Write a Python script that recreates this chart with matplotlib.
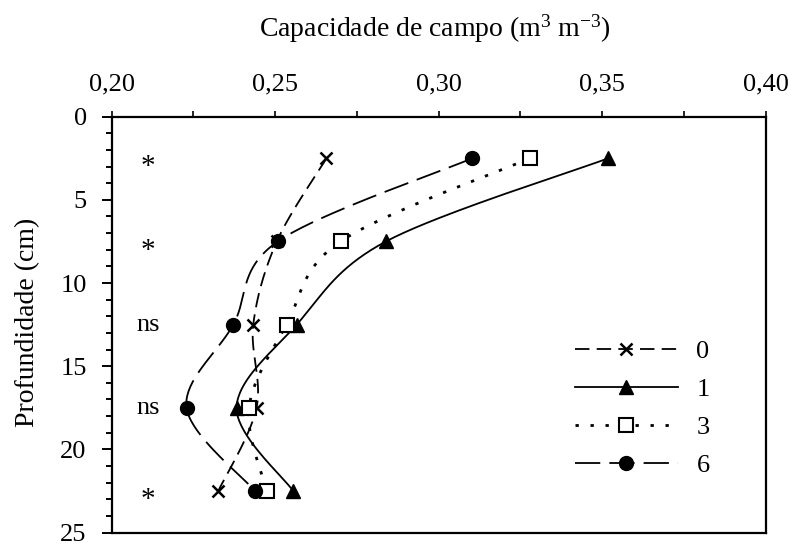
import numpy as np
import matplotlib
matplotlib.use('Agg')
import matplotlib.pyplot as plt
from matplotlib.lines import Line2D
from matplotlib.ticker import MultipleLocator, FixedLocator

# ---- data ----
depth = [2.5, 7.5, 12.5, 17.5, 22.5]
cc_0 = [0.2657, 0.2505, 0.2433, 0.2443, 0.2326]
cc_1 = [0.3519, 0.2839, 0.2566, 0.2382, 0.2555]
cc_3 = [0.3279, 0.2700, 0.2535, 0.2420, 0.2474]
cc_6 = [0.3103, 0.2508, 0.2372, 0.2229, 0.2438]
series_labels = ['0', '1', '3', '6']
sig_labels = ['*', '*', 'ns', 'ns', '*']
xticks = [0.20, 0.25, 0.30, 0.35, 0.40]
xticklabels = ['0,20', '0,25', '0,30', '0,35', '0,40']
yticks = [0, 5, 10, 15, 20, 25]

plt.rcParams['font.family'] = ['Liberation Serif', 'DejaVu Serif']
plt.rcParams['mathtext.fontset'] = 'custom'
plt.rcParams['mathtext.rm'] = 'Liberation Serif'
plt.rcParams['mathtext.it'] = 'Liberation Serif:italic'

fig = plt.figure(figsize=(7.92, 5.45), dpi=100)
ax = fig.add_axes([111.7 / 792, 1 - 532.5 / 545, (765.5 - 111.7) / 792, (532.5 - 116.7) / 545])

XMIN, XMAX, YMIN, YMAX = 0.20, 0.40, 0, 25
ax.set_xlim(XMIN, XMAX)
ax.set_ylim(YMAX, YMIN)

W = (765.5 - 111.7)
H = (532.5 - 116.7)


def smooth(xs, ys, n=40):
    X = (np.asarray(xs) - XMIN) / (XMAX - XMIN) * W
    Y = (np.asarray(ys) - YMIN) / (YMAX - YMIN) * H
    P = np.column_stack([X, Y])
    P = np.vstack([P[0], P, P[-1]])
    out = []
    t = np.linspace(0, 1, n)[:, None]
    for i in range(1, len(P) - 2):
        p0, p1, p2, p3 = P[i - 1], P[i], P[i + 1], P[i + 2]
        seg = 0.5 * ((2 * p1) + (-p0 + p2) * t + (2 * p0 - 5 * p1 + 4 * p2 - p3) * t ** 2
                     + (-p0 + 3 * p1 - 3 * p2 + p3) * t ** 3)
        out.append(seg if i == 1 else seg[1:])
    out = np.vstack(out)
    return out[:, 0] / W * (XMAX - XMIN) + XMIN, out[:, 1] / H * (YMAX - YMIN) + YMIN


styles = [
    dict(ls=(0, (8, 4)), lw=1.3, marker='x', ms=8, mew=1.8, mfc='black'),
    dict(ls='-', lw=1.3, marker='^', ms=10, mew=1.0, mfc='black'),
    dict(ls=(0, (1.2, 4.2)), lw=2.0, marker='s', ms=10, mew=1.5, mfc='white'),
    dict(ls=(0, (14, 5)), lw=1.3, marker='o', ms=10, mew=1.0, mfc='black'),
]
series = [cc_0, cc_1, cc_3, cc_6]

handles = []
for vals, st, lab in zip(series, styles, series_labels):
    sx, sy = smooth(vals, depth)
    ax.plot(sx, sy, color='black', linestyle=st['ls'], lw=st['lw'], zorder=2)
    ax.plot(vals, depth, linestyle='none', marker=st['marker'], ms=st['ms'],
            mew=st['mew'], mfc=st['mfc'], mec='black', zorder=3)
    handles.append(Line2D([], [], color='black', linestyle=st['ls'], lw=st['lw'],
                          marker=st['marker'], ms=st['ms'], mew=st['mew'],
                          mfc=st['mfc'], mec='black', label=lab))

for d, s in zip(depth, sig_labels):
    if s == '*':
        ax.text(0.2111, d + 0.55, s, ha='center', va='center', fontsize=21)
    else:
        ax.text(0.2111, d, s, ha='center', va='center', fontsize=19)

# axes styling
ax.xaxis.tick_top()
ax.xaxis.set_major_locator(FixedLocator(xticks))
ax.set_xticklabels(xticklabels)
ax.xaxis.set_minor_locator(MultipleLocator(0.025))
ax.yaxis.set_major_locator(FixedLocator(yticks))
ax.yaxis.set_minor_locator(MultipleLocator(1))
ax.tick_params(axis='x', which='both', direction='out', length=4.5, width=1.2,
               labelsize=19, pad=11, top=True, bottom=False)
ax.tick_params(axis='y', which='major', direction='out', length=7, width=1.4,
               labelsize=19, pad=11, left=True, right=False)
ax.tick_params(axis='y', which='minor', direction='out', length=4, width=1.4,
               left=True, right=False)
for sp in ax.spines.values():
    sp.set_linewidth(1.6)

fig.text(435 / 792, 1 - 37 / 545, r'Capacidade de campo (m$^3$ m$^{-3}$)',
         ha='center', va='baseline', fontsize=20)
fig.text(28 / 792, 1 - 322 / 545, 'Profundidade (cm)', rotation=90,
         ha='center', va='center', fontsize=20)

leg = ax.legend(handles=handles, loc='upper left', frameon=False,
                bbox_to_anchor=((575 - 111.7) / W, 1 - (340 - 116.7) / H),
                fontsize=19, handlelength=3.9, handletextpad=0.7,
                labelspacing=0.55, borderpad=0, borderaxespad=0, numpoints=1)

fig.savefig('out.png', dpi=100)
